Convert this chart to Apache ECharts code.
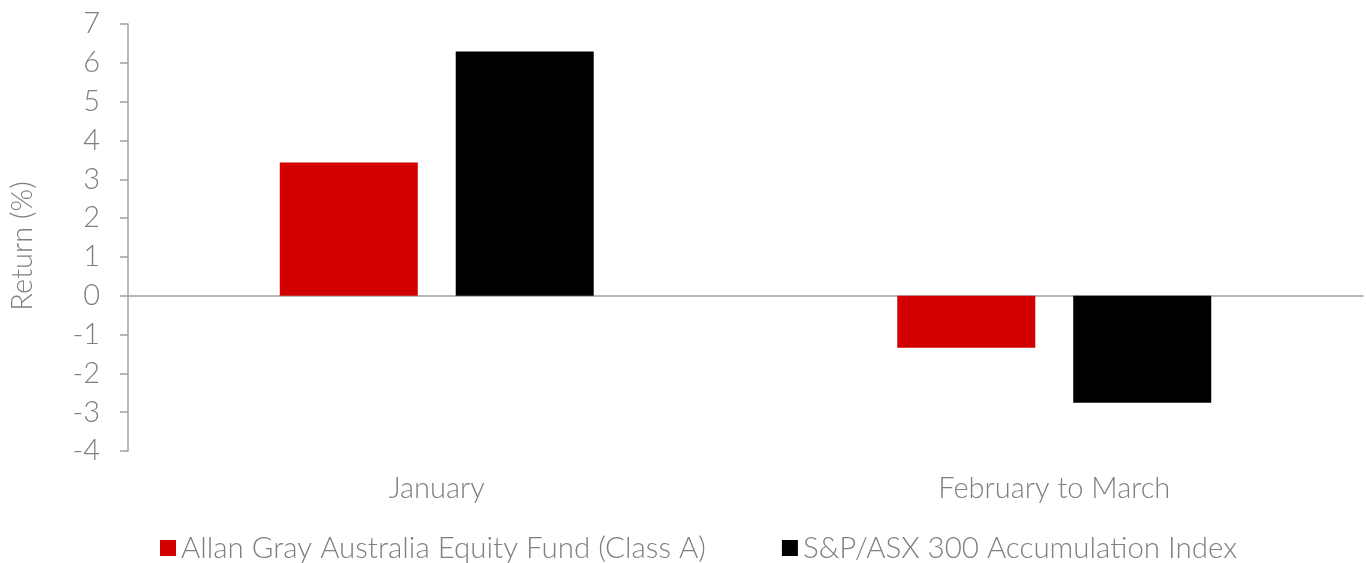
<!DOCTYPE html>
<html>
<head>
<meta charset="utf-8">
<script src="https://cdn.jsdelivr.net/npm/echarts@6/dist/echarts.min.js"></script>
<style>
  html, body { margin: 0; padding: 0; background: #fff; }
  #chart { width: 1366px; height: 563px; }
</style>
</head>
<body>
<div id="chart"></div>
<script>
// data
var categories = ['January', 'February to March'];
var fundName = 'Allan Gray Australia Equity Fund (Class A)';
var indexName = 'S&P/ASX 300 Accumulation Index';
var fundValues = [3.43, -1.34];
var indexValues = [6.29, -2.76];

var textColor = '#7f7f7f';
var font = 'Lato';
var fs = 29;

var chart = echarts.init(document.getElementById('chart'));

var option = {
  backgroundColor: '#ffffff',
  animation: false,
  textStyle: { fontFamily: font, fontWeight: 300 },
  grid: { left: 128, right: 3, top: 24, bottom: 112, outerBoundsMode: 'none' },
  legend: {
    left: 155,
    top: 528,
    itemWidth: 16,
    itemHeight: 16,
    itemGap: 76,
    icon: 'rect',
    textStyle: { color: textColor, fontSize: 29.5, fontFamily: font, fontWeight: 300 },
    data: [fundName, indexName]
  },
  xAxis: {
    type: 'category',
    data: categories,
    axisLine: { onZero: true, lineStyle: { color: '#a0a0a0', width: 1.5 } },
    axisTick: { show: false },
    axisLabel: {
      color: textColor, fontSize: fs, fontFamily: font, fontWeight: 300,
      interval: 0, margin: 23
    }
  },
  yAxis: {
    type: 'value',
    min: -4,
    max: 7,
    interval: 1,
    name: 'Return (%)',
    nameLocation: 'middle',
    nameGap: 91,
    nameRotate: 90,
    nameTextStyle: {
      color: textColor, fontSize: fs, fontFamily: font, fontWeight: 300,
      padding: [0, 17, 0, 0]
    },
    axisLine: { show: true, lineStyle: { color: '#a0a0a0', width: 1.5 } },
    axisTick: { show: true, length: 8, lineStyle: { color: '#a0a0a0', width: 1.5 } },
    axisLabel: { color: textColor, fontSize: fs, fontFamily: font, fontWeight: 300, margin: 28 },
    splitLine: { show: false }
  },
  series: [
    {
      name: fundName,
      type: 'bar',
      data: fundValues,
      barWidth: 138,
      barGap: '27.5%',
      itemStyle: { color: '#d20000' }
    },
    {
      name: indexName,
      type: 'bar',
      data: indexValues,
      barWidth: 138,
      barGap: '27.5%',
      itemStyle: { color: '#000000' }
    }
  ]
};

chart.setOption(option);
</script>
</body>
</html>
